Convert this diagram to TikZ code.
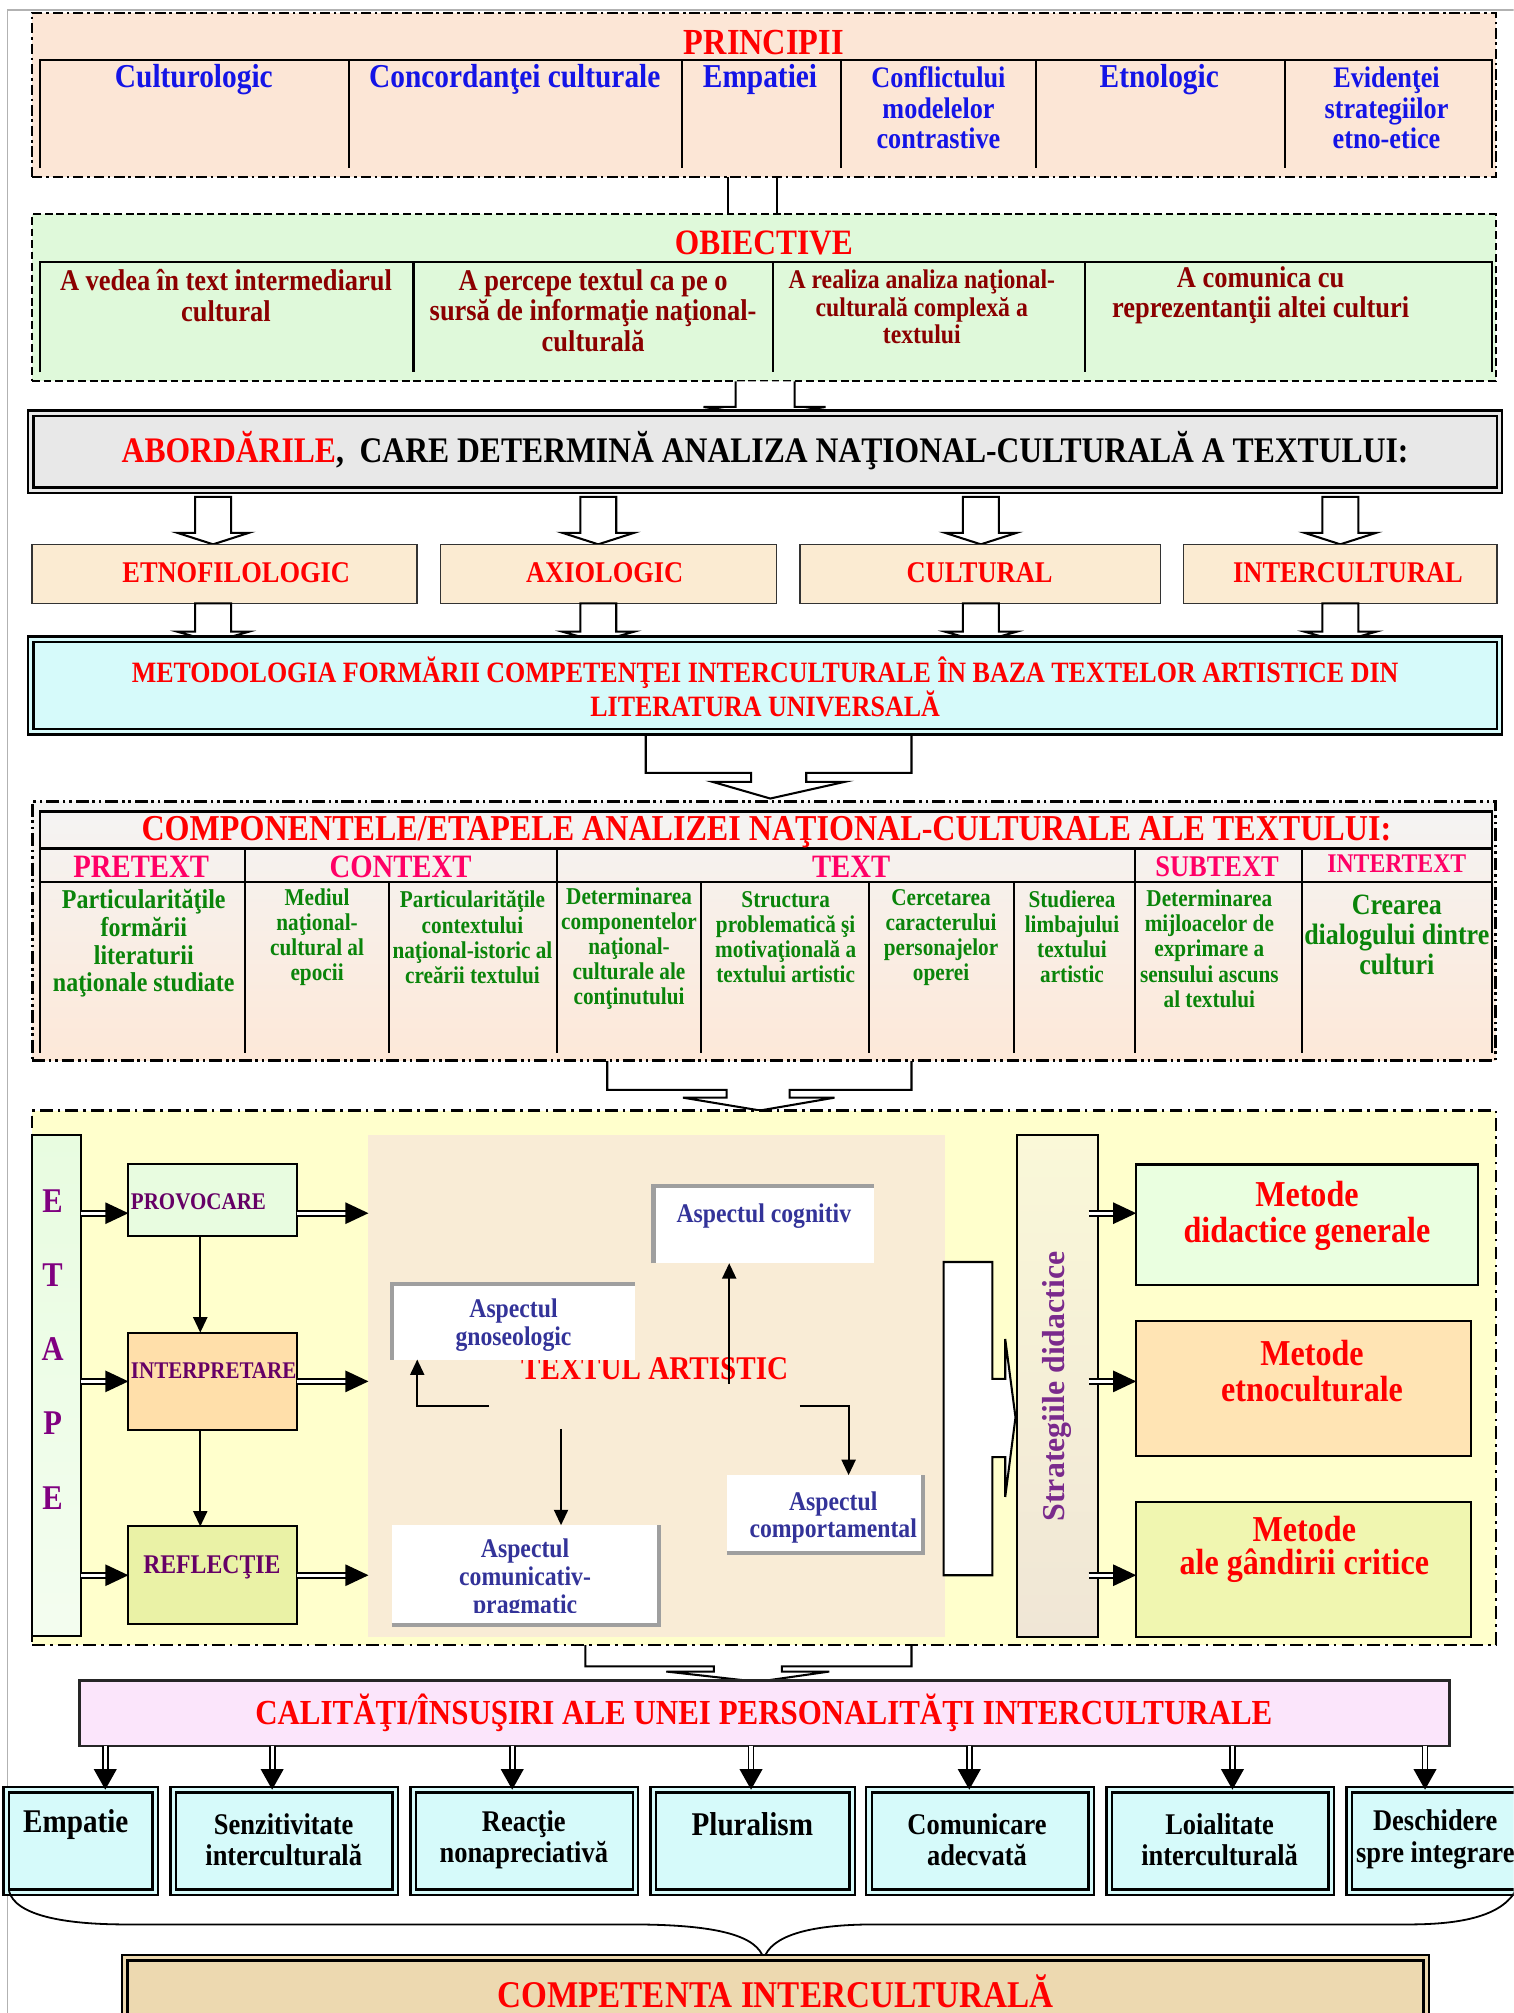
\documentclass[tikz,border=0pt]{standalone}
\usepackage{fontspec}
\setmainfont{Liberation Serif}[FakeStretch=0.88]
\newfontfamily\widefont{Liberation Serif}
\usetikzlibrary{arrows.meta,fit,calc}
\definecolor{cblue}{HTML}{1414E6}
\definecolor{cdred}{HTML}{8B0000}
\definecolor{cred}{HTML}{FF0000}
\definecolor{cmag}{HTML}{FF0066}
\definecolor{cgreen}{HTML}{0A840A}
\definecolor{cpurple}{HTML}{800080}
\definecolor{cdpurple}{HTML}{660066}
\definecolor{cstrat}{HTML}{7A2A8C}
\definecolor{cnavy}{HTML}{333399}
\definecolor{fpeach}{HTML}{FCE6D6}
\definecolor{fgreen}{HTML}{DFF9DA}
\definecolor{fgray}{HTML}{E8E8E8}
\definecolor{fcream}{HTML}{FBEBD2}
\definecolor{fcyan}{HTML}{D6FAFA}
\definecolor{fyellow}{HTML}{FFFFCC}
\definecolor{fbeige}{HTML}{F9ECD6}
\definecolor{fpink}{HTML}{FBE5FB}
\definecolor{ftan}{HTML}{EDD9B0}
\definecolor{fmgreen}{HTML}{EAFFE0}
\definecolor{fmorange}{HTML}{FFE4B4}
\definecolor{fmlime}{HTML}{F0F6B0}
\definecolor{fint}{HTML}{FFDFAA}
\definecolor{fprov}{HTML}{E8FCE0}
\definecolor{frefl}{HTML}{EAF2A6}
\definecolor{fcomptop}{HTML}{F4F4F4}
\definecolor{fcompbot}{HTML}{FDE8D8}
\definecolor{fstrtop}{HTML}{FAF8D8}
\definecolor{fstrbot}{HTML}{F0E6D6}
\newcommand\fz[2]{\fontsize{#1}{#2}\selectfont\bfseries}
\newcommand\tipR[1]{\fill[black] (#1) -- ++(-18,-8.5) -- ++(0,17) -- cycle;}
\newcommand\tipD[1]{\fill[black] (#1) -- ++(-9,-16) -- ++(18,0) -- cycle;}
\newcommand\dblR[2]{\draw[dshaft] (#1) -- ($(#2)+(-16,0)$); \tipR{#2}}
\newcommand\dblD[2]{\draw[dshaft] (#1) -- ($(#2)+(0,-14)$); \tipD{#2}}
\newcommand\bdown[4]{\draw[harrow] (#1-14,#2) -- (#1+14,#2) -- (#1+14,#3) -- (#1+28,#3) -- (#1,#4) -- (#1-28,#3) -- (#1-14,#3) -- cycle;}
\begin{document}
\begin{tikzpicture}[x=0.5pt,y=-0.5pt,
 every node/.style={inner sep=0pt,outer sep=0pt},
 reg/.style={inner sep=0pt,outer sep=0pt},
 txt/.style={align=center},
 tbl/.style={line width=0.9pt},
 pagel/.style={draw=gray!60,line width=0.6pt},
 dshaft/.style={draw=black,double=white,double distance=1.2pt,line width=0.7pt},
 sarr/.style={line width=0.7pt,-{Triangle[length=6pt,width=5.5pt]}},
 harrow/.style={draw=black,fill=white,line width=0.8pt,line join=miter},
 dbox/.style={draw=black,line width=0.9pt,double distance=1.3pt},
 gline/.style={draw=gray!75,line width=1.6pt},
 wbox/.style={fill=white,inner sep=0pt,outer sep=0pt}
]
\useasboundingbox (0,0) rectangle (1179,1568);
\clip (0,0) rectangle (1179,1568);
\fill[white] (0,0) rectangle (1179,1568);

% page border
\coordinate (pg1) at (6,1568); \coordinate (pg2) at (6,8); \coordinate (pg3) at (1179,8);
\draw[pagel] (pg1) -- (pg2) -- (pg3);

% ===== PRINCIPII
\node[reg, fit={(25,10)(1165,138)}, fill=fpeach, draw=black, line width=0.8pt, dash pattern=on 4pt off 1.5pt on 1pt off 1.5pt] (princ) {};
\draw[tbl] (31,131) -- (31,47) -- (1162,47) -- (1162,131);
\foreach \x in {272,531,655,807,1001} \draw[tbl] (\x,47) -- (\x,131);
\node[font=\fz{14.3pt}{15pt}, text=cred] (princT) at (595,33) {PRINCIPII};
\node[font=\fz{13pt}{13pt}, text=cblue] (p1) at (151,62) {Culturologic};
\node[font=\fz{13pt}{13pt}, text=cblue] (p2) at (401,62) {Concordanţei culturale};
\node[font=\fz{13pt}{13pt}, text=cblue] (p3) at (592,62) {Empatiei};
\node[font=\fz{11.6pt}{12pt}, text=cblue, txt] (p4) at (731,84) {Conflictului\\modelelor\\contrastive};
\node[font=\fz{13pt}{13pt}, text=cblue] (p5) at (903,62) {Etnologic};
\node[font=\fz{11.6pt}{12pt}, text=cblue, txt] (p6) at (1080,84) {Evidenţei\\strategiilor\\etno-etice};

% connector principii -> obiective
\coordinate (pc1) at (567,138); \coordinate (pc2) at (605,138);
\draw[line width=0.8pt] (pc1) -- (pc1 |- 0,167);
\draw[line width=0.8pt] (pc2) -- (pc2 |- 0,167);

% ===== OBIECTIVE
\node[reg, fit={(25,167)(1165,297)}, fill=fgreen, draw=black, line width=0.8pt, dash pattern=on 3pt off 1.5pt] (obj) {};
\draw[tbl] (31,290) -- (31,204) -- (1162,204) -- (1162,290);
\foreach \x in {322,602,845} \draw[tbl] (\x,204) -- (\x,290);
\node[font=\fz{13.9pt}{14pt}, text=cred] (objT) at (595,189) {OBIECTIVE};
\node[font=\fz{11.7pt}{12pt}, text=cdred, txt] (o1) at (176,230) {A vedea în text intermediarul\\cultural};
\node[font=\fz{11.7pt}{12pt}, text=cdred, txt] (o2) at (462,242) {A percepe textul ca pe o\\sursă de informaţie naţional-\\culturală};
\node[font=\fz{10.5pt}{10.75pt}, text=cdred, txt] (o3) at (718,239) {A realiza analiza naţional-\\culturală complexă a\\textului};
\node[font=\fz{11.7pt}{12pt}, text=cdred, txt] (o4) at (982,230) {A comunica cu\\reprezentanţii altei culturi};

% arrow obiective -> abordari
\draw[harrow] (573,297) -- (573,317) -- (548,317) -- (595,324) -- (643,317) -- (619,317) -- (619,297);

% ===== ABORDARILE
\node[reg, fit={(24,322)(1168,382)}, fill=fgray, dbox, double=fgray] (abord) {};
\node[font=\fz{14pt}{14pt}] (abordT) at (596,351) {\textcolor{cred}{ABORDĂRILE},\hspace{3pt} CARE DETERMINĂ ANALIZA NAŢIONAL-CULTURALĂ A TEXTULUI:};

% arrows row 1
\bdown{166}{387}{415}{424}
\bdown{466}{387}{415}{424}
\bdown{764}{387}{415}{424}
\bdown{1044}{387}{415}{424}

\node[reg, fit={(25,424)(325,470)}, fill=fcream, draw=black!80, line width=0.6pt] (a1) {};
\node[reg, fit={(343,424)(605,470)}, fill=fcream, draw=black!80, line width=0.6pt] (a2) {};
\node[reg, fit={(623,424)(904,470)}, fill=fcream, draw=black!80, line width=0.6pt] (a3) {};
\node[reg, fit={(922,424)(1166,470)}, fill=fcream, draw=black!80, line width=0.6pt] (a4) {};
\node[font=\fz{11.7pt}{12pt}, text=cred] (a1T) at (184,446) {ETNOFILOLOGIC};
\node[font=\fz{11.7pt}{12pt}, text=cred] (a2T) at (471,446) {AXIOLOGIC};
\node[font=\fz{11.7pt}{12pt}, text=cred] (a3T) at (763,446) {CULTURAL};
\node[font=\fz{11.7pt}{12pt}, text=cred] (a4T) at (1050,446) {INTERCULTURAL};

% arrows row 2
\bdown{166}{470}{492}{500}
\bdown{466}{470}{492}{500}
\bdown{764}{470}{492}{500}
\bdown{1044}{470}{492}{500}

% bent arrow 1
\draw[harrow] (503,566) -- (503,602) -- (585,602) -- (585,609) -- (555,609) -- (600,622) -- (658,609) -- (628,609) -- (628,602) -- (710,602) -- (710,566);

% ===== METODOLOGIA
\node[reg, fit={(24,498)(1168,570)}, fill=fcyan, dbox, double=fcyan] (metod) {};
\node[font=\fz{11.5pt}{12pt}, text=cred, txt] (metodT) at (596,535) {METODOLOGIA FORMĂRII COMPETENŢEI INTERCULTURALE ÎN BAZA TEXTELOR ARTISTICE DIN\\LITERATURA UNIVERSALĂ};

% bent arrow 2
\draw[harrow] (473,820) -- (473,849) -- (566,849) -- (566,855) -- (532,855) -- (592,865) -- (650,855) -- (615,855) -- (615,849) -- (710,849) -- (710,820);

% ===== COMPONENTELE
\node[reg, fit={(25,624)(1165,826)}, top color=fcomptop, bottom color=fcompbot, draw=black, line width=1.1pt, dash pattern=on 5pt off 1.5pt on 1pt off 1.5pt on 1pt off 1.5pt] (compo) {};
\draw[tbl] (31,820) -- (31,632) -- (1162,632) -- (1162,820);
\draw[tbl] (31,661) -- (1162,661);
\draw[tbl] (31,687) -- (1162,687);
\foreach \x in {191,434,884,1014} \draw[tbl] (\x,661) -- (\x,820);
\foreach \x in {303,546,677,790} \draw[tbl] (\x,687) -- (\x,820);
\node[font=\fz{14.2pt}{14pt}, text=cred] (compoT) at (597,648) {COMPONENTELE/ETAPELE ANALIZEI NAŢIONAL-CULTURALE ALE TEXTULUI:};
\node[font=\fz{12.7pt}{13pt}, text=cmag] (h1) at (110,675) {PRETEXT};
\node[font=\fz{12.7pt}{13pt}, text=cmag] (h2) at (312,675) {CONTEXT};
\node[font=\fz{12.7pt}{13pt}, text=cmag] (h3) at (663,675) {TEXT};
\node[font=\fz{11.7pt}{12pt}, text=cmag] (h4) at (948,675) {SUBTEXT};
\node[font=\fz{10.5pt}{11pt}, text=cmag] (h5) at (1088,673) {INTERTEXT};
\node[font=\fz{10.6pt}{10.75pt}, text=cgreen, txt] (b1) at (112,735) {Particularităţile\\formării\\literaturii\\naţionale studiate};
\node[font=\fz{9.4pt}{9.75pt}, text=cgreen, txt] (b2) at (247,730) {Mediul\\naţional-\\cultural al\\epocii};
\node[font=\fz{9.4pt}{9.75pt}, text=cgreen, txt] (b3) at (368,730) {Particularităţile\\contextului\\naţional-istoric al\\creării textului};
\node[font=\fz{9.4pt}{9.75pt}, text=cgreen, txt] (b4) at (490,739) {Determinarea\\componentelor\\naţional-\\culturale ale\\conţinutului};
\node[font=\fz{9.4pt}{9.75pt}, text=cgreen, txt] (b5) at (612,730) {Structura\\problematică şi\\motivaţională a\\textului artistic};
\node[font=\fz{9.4pt}{9.75pt}, text=cgreen, txt] (b6) at (733,730) {Cercetarea\\caracterului\\personajelor\\operei};
\node[font=\fz{9.4pt}{9.75pt}, text=cgreen, txt] (b7) at (835,730) {Studierea\\limbajului\\textului\\artistic};
\node[font=\fz{9.4pt}{9.75pt}, text=cgreen, txt] (b8) at (942,739) {Determinarea\\mijloacelor de\\exprimare a\\sensului ascuns\\al textului};
\node[font=\fz{11.5pt}{11.75pt}, text=cgreen, txt] (b9) at (1088,728) {Crearea\\dialogului dintre\\culturi};

% bent arrow 3
\draw[harrow] (456,1276) -- (456,1298) -- (556,1298) -- (556,1302) -- (519,1302) -- (590,1310) -- (646,1302) -- (609,1302) -- (609,1298) -- (710,1298) -- (710,1276);

% ===== YELLOW SECTION
\node[reg, fit={(25,865)(1165,1281)}, fill=fyellow, draw=black, line width=0.8pt, dash pattern=on 5pt off 2pt on 1pt off 2pt] (yel) {};
\node[reg, fit={(287,884)(736,1275)}, fill=fbeige] (beige) {};
\node[reg, fit={(25,884)(63,1274)}, top color=fprov, bottom color=fprov!50, draw=black, line width=0.8pt] (etape) {};
\node[font=\fz{13.5pt}{28.9pt}, text=cpurple, txt] (etapeT) at (41,1051) {E\\T\\A\\P\\E};
\node[reg, fit={(100,907)(231,963)}, fill=fprov, draw=black, line width=0.8pt] (prov) {};
\node[reg, fit={(100,1038)(231,1114)}, fill=fint, draw=black, line width=0.8pt] (interp) {};
\node[reg, fit={(100,1189)(231,1265)}, fill=frefl, draw=black, line width=0.8pt] (refl) {};
\node[font=\fz{9.3pt}{10pt}, text=cdpurple, anchor=west] (provT) at (102,936) {PROVOCARE};
\node[font=\fz{9.3pt}{10pt}, text=cdpurple, anchor=west] (interpT) at (102,1068) {INTERPRETARE};
\node[font=\fz{10.5pt}{11pt}, text=cdpurple] (reflT) at (165,1221) {REFLECŢIE};
\coordinate (vx) at (156,0);
\draw[sarr] (prov.south -| vx) -- (interp.north -| vx);
\draw[sarr] (interp.south -| vx) -- (refl.north -| vx);
\coordinate (r1) at (0,945); \coordinate (r2) at (0,1076); \coordinate (r3) at (0,1227);
\dblR{etape.east |- r1}{prov.west |- r1}
\dblR{etape.east |- r2}{interp.west |- r2}
\dblR{etape.east |- r3}{refl.west |- r3}
\dblR{prov.east |- r1}{beige.west |- r1}
\dblR{interp.east |- r2}{beige.west |- r2}
\dblR{refl.east |- r3}{beige.west |- r3}

% center
\node[font=\fz{12.9pt}{13pt}, text=cred] (textul) at (510,1066) {TEXTUL ARTISTIC};
\node[reg, fit={(305,1000)(495,1059)}, wbox] (gnos) {};
\draw[gline] (gnos.south west) -- (gnos.north west) -- (gnos.north east);
\node[reg, fit={(509,924)(681,984)}, wbox] (cogn) {};
\draw[gline] (cogn.south west) -- (cogn.north west) -- (cogn.north east);
\node[reg, fit={(566,1149)(719,1210)}, wbox] (compt) {};
\draw[gline] (compt.south west) -- (compt.south east) -- (compt.north east);
\node[reg, fit={(305,1188)(513,1266)}, wbox] (comm) {};
\draw[gline] (comm.south west) -- (comm.south east) -- (comm.north east);
\node[font=\fz{10.5pt}{11pt}, text=cnavy, txt] (gnosT) at (400,1032) {Aspectul\\gnoseologic};
\node[font=\fz{10.5pt}{11pt}, text=cnavy] (cognT) at (595,947) {Aspectul cognitiv};
\node[font=\fz{10.5pt}{10.25pt}, text=cnavy, txt] (comptT) at (649,1182) {Aspectul\\comportamental};
\begin{scope}
\clip (305,1188) rectangle (511,1256);
\node[font=\fz{10.5pt}{10.75pt}, text=cnavy, txt] (commT) at (409,1230) {Aspectul\\comunicativ-\\pragmatic};
\end{scope}
\coordinate (ta1) at (381,1095);
\coordinate (ta2) at (568,1078);
\coordinate (ta3) at (623,1095);
\coordinate (ta4) at (437,1113);
\coordinate (gx) at (325,0);
\coordinate (cx) at (661,0);
\draw[sarr] (ta1) -| (gnos.south -| gx);
\draw[sarr] (ta2) -- (ta2 |- cogn.south);
\draw[sarr] (ta3) -| (compt.north -| cx);
\draw[sarr] (ta4) -- (ta4 |- comm.north);

% block arrow right
\draw[harrow] (735,983) -- (773,983) -- (773,1074) -- (783,1074) -- (783,1043) -- (791,1104) -- (783,1166) -- (783,1135) -- (773,1135) -- (773,1227) -- (735,1227) -- cycle;

% strategii
\node[reg, fit={(792,884)(855,1275)}, top color=fstrtop, bottom color=fstrbot, draw=black, line width=0.8pt] (strat) {};
\node[font=\widefont\fontsize{12.4pt}{13pt}\selectfont\bfseries, text=cstrat, rotate=90] (stratT) at (823,1080) {Strategiile didactice};
\coordinate (s1) at ($(strat.east)+(-7,0)$);
\node[reg, fit={(885,907)(1151,1001)}, fill=fmgreen, draw=black, line width=0.9pt] (m1) {};
\node[reg, fit={(885,1029)(1146,1134)}, fill=fmorange, draw=black, line width=0.9pt] (m2) {};
\node[reg, fit={(885,1170)(1146,1275)}, fill=fmlime, draw=black, line width=0.9pt] (m3) {};
\node[font=\fz{14.2pt}{14pt}, text=cred, txt] (m1T) at (1018,947) {Metode\\didactice generale};
\node[font=\fz{14.2pt}{14pt}, text=cred, txt] (m2T) at (1022,1068) {Metode\\etnoculturale};
\node[font=\fz{14.2pt}{13pt}, text=cred, txt] (m3T) at (1016,1207) {Metode\\ale gândirii critice};
\dblR{s1 |- r1}{m1.west |- r1}
\dblR{s1 |- r2}{m2.west |- r2}
\dblR{s1 |- r3}{m3.west |- r3}

% ===== CALITATI
\node[reg, fit={(62,1309)(1129,1360)}, fill=fpink, draw=black!85, line width=0.9pt] (cal) {};
\node[font=\fz{13.7pt}{14pt}, text=cred] (calT) at (595,1334) {CALITĂŢI/ÎNSUŞIRI ALE UNEI PERSONALITĂŢI INTERCULTURALE};

\node[reg, fit={(5,1394)(121,1474)}, fill=fcyan, dbox, double=fcyan] (q1) {};
\node[reg, fit={(135,1394)(308,1474)}, fill=fcyan, dbox, double=fcyan] (q2) {};
\node[reg, fit={(322,1394)(495,1474)}, fill=fcyan, dbox, double=fcyan] (q3) {};
\node[reg, fit={(509,1394)(664,1474)}, fill=fcyan, dbox, double=fcyan] (q4) {};
\node[reg, fit={(677,1394)(850,1474)}, fill=fcyan, dbox, double=fcyan] (q5) {};
\node[reg, fit={(864,1394)(1037,1474)}, fill=fcyan, dbox, double=fcyan] (q6) {};
\node[reg, fit={(1051,1394)(1200,1474)}, fill=fcyan, dbox, double=fcyan] (q7) {};
\node[font=\fz{12.9pt}{13pt}] (q1T) at (59,1421) {Empatie};
\node[font=\fz{11.7pt}{12.4pt}, txt] (q2T) at (221,1433) {Senzitivitate\\interculturală};
\node[font=\fz{11.7pt}{12.4pt}, txt] (q3T) at (408,1433) {Reacţie\\nonapreciativă};
\node[font=\fz{12.9pt}{13pt}] (q4T) at (586,1421) {Pluralism};
\node[font=\fz{11.7pt}{12.4pt}, txt] (q5T) at (761,1433) {Comunicare\\adecvată};
\node[font=\fz{11.7pt}{12.4pt}, txt] (q6T) at (950,1433) {Loialitate\\interculturală};
\node[font=\fz{11.7pt}{12.4pt}, txt] (q7T) at (1118,1433) {Deschidere\\spre integrare};

\coordinate (k1) at (82,0); \coordinate (k2) at (212,0); \coordinate (k3) at (399,0);
\coordinate (k4) at (585,0); \coordinate (k5) at (755,0); \coordinate (k6) at (960,0);
\coordinate (k7) at (1110,0);
\dblD{cal.south -| k1}{q1.north -| k1}
\dblD{cal.south -| k2}{q2.north -| k2}
\dblD{cal.south -| k3}{q3.north -| k3}
\dblD{cal.south -| k4}{q4.north -| k4}
\dblD{cal.south -| k5}{q5.north -| k5}
\dblD{cal.south -| k6}{q6.north -| k6}
\dblD{cal.south -| k7}{q7.north -| k7}

% brace
\draw[line width=0.7pt] (7,1473) .. controls (12,1492) and (50,1499) .. (98,1499) -- (491,1499) .. controls (560,1499) and (590,1508) .. (595,1526) .. controls (600,1508) and (630,1499) .. (681,1499) -- (1097,1499) .. controls (1140,1499) and (1172,1492) .. (1182,1470);

% ===== COMPETENTA
\node[reg, fit={(97,1525)(1111,1610)}, fill=ftan, dbox, double=ftan] (compt0) {};
\node[font=\fz{14.7pt}{15pt}, text=cred] (comptT0) at (604,1551) {COMPETENTA INTERCULTURALĂ};
\end{tikzpicture}
\end{document}
